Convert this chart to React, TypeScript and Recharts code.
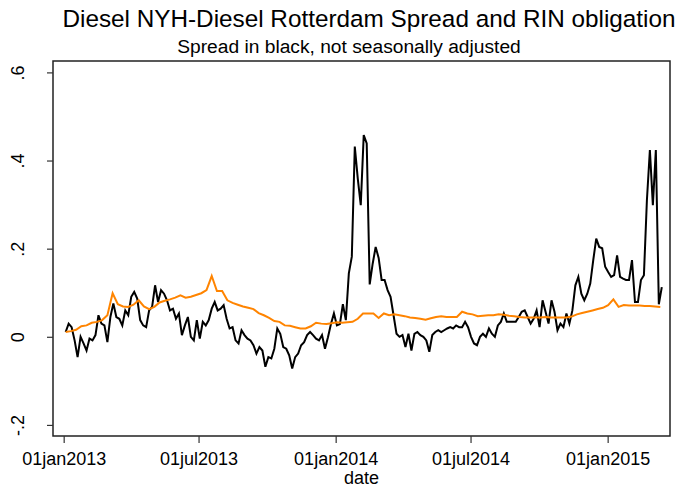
import React from "react";
import { Line, LineChart, ReferenceArea, XAxis, YAxis } from "recharts";

// days counted from 01jan2013
const SPREAD_START = 2;
const SPREAD_STEP = 4;
const spreadValues = [
  0.012, 0.031, 0.023, -0.007, -0.045, 0.001, -0.014, -0.03, -0.003, -0.007,
  0.005, 0.05, 0.031, 0.027, -0.011, 0.046, 0.077, 0.046, 0.042, 0.027,
  0.061, 0.05, 0.092, 0.103, 0.088, 0.039, 0.027, 0.023, 0.061, 0.069,
  0.118, 0.08, 0.107, 0.099, 0.084, 0.061, 0.065, 0.042, 0.054, 0.005,
  0.027, 0.046, 0.001, -0.007, 0.039, -0.003, 0.035, 0.027, 0.039, 0.065,
  0.08, 0.061, 0.065, 0.073, 0.042, 0.02, 0.023, -0.007, -0.014, 0.016,
  0.005, -0.003, -0.007, -0.018, -0.037, -0.022, -0.03, -0.067, -0.045, -0.048,
  -0.026, 0.02, 0.008, -0.022, -0.026, -0.041, -0.071, -0.045, -0.037, -0.018,
  -0.011, 0.005, 0.012, 0.005, -0.003, -0.007, 0.005, -0.026, 0.0, 0.03,
  0.054, 0.027, 0.03, 0.075, 0.039, 0.145, 0.183, 0.433, 0.36, 0.3,
  0.459, 0.44, 0.12, 0.167, 0.205, 0.18, 0.13, 0.13, 0.107, 0.092,
  0.05, 0.008, 0.001, 0.005, -0.022, 0.008, -0.03, 0.008, 0.012, 0.005,
  0.001, -0.007, -0.033, 0.005, 0.012, 0.016, 0.012, 0.016, 0.02, 0.023,
  0.02, 0.027, 0.023, 0.023, 0.035, 0.023, 0.001, -0.014, -0.018, 0.001,
  0.008, 0.001, 0.02, 0.008, 0.001, 0.027, 0.035, 0.054, 0.035, 0.035,
  0.035, 0.035, 0.046, 0.058, 0.061, 0.046, 0.031, 0.042, 0.061, 0.023,
  0.084, 0.058, 0.031, 0.084, 0.058, 0.016, 0.031, 0.023, 0.054, 0.031,
  0.061, 0.118, 0.137, 0.099, 0.084, 0.099, 0.122, 0.175, 0.224, 0.205,
  0.202, 0.16, 0.148, 0.137, 0.141, 0.186, 0.137, 0.133, 0.13, 0.13,
  0.175, 0.08, 0.08, 0.13, 0.141, 0.311, 0.425, 0.3, 0.425, 0.075,
  0.114,
];

const RIN_START = 2;
const RIN_STEP = 7;
const rinValues = [
  0.012, 0.014, 0.017, 0.025, 0.027, 0.033, 0.035, 0.039, 0.05, 0.1,
  0.075, 0.07, 0.069, 0.074, 0.084, 0.07, 0.064, 0.069, 0.079, 0.083,
  0.086, 0.09, 0.095, 0.09, 0.092, 0.096, 0.1, 0.107, 0.139, 0.105,
  0.105, 0.084, 0.078, 0.074, 0.07, 0.067, 0.064, 0.055, 0.05, 0.044,
  0.037, 0.035, 0.027, 0.026, 0.023, 0.02, 0.02, 0.025, 0.033, 0.031,
  0.03, 0.032, 0.034, 0.033, 0.034, 0.035, 0.042, 0.054, 0.054, 0.054,
  0.044, 0.054, 0.05, 0.052, 0.05, 0.048, 0.045, 0.044, 0.042, 0.04,
  0.043, 0.046, 0.048, 0.046, 0.046, 0.046, 0.058, 0.054, 0.052, 0.048,
  0.049, 0.05, 0.05, 0.052, 0.051, 0.049, 0.048, 0.046, 0.045, 0.045,
  0.045, 0.045, 0.046, 0.045, 0.045, 0.045, 0.045, 0.047, 0.052, 0.055,
  0.058, 0.061, 0.064, 0.067, 0.073, 0.086, 0.069, 0.073, 0.072, 0.072,
  0.072, 0.071, 0.071, 0.07, 0.069,
];

const dateTicks = [0, 181, 365, 546, 730];
const dateLabels = ["01jan2013", "01jul2013", "01jan2014", "01jul2014", "01jan2015"];
const yTicks = [-0.2, 0, 0.2, 0.4, 0.6];
const yLabels = ["-.2", "0", ".2", ".4", ".6"];

const X_DOMAIN: [number, number] = [-15, 813];
const Y_DOMAIN: [number, number] = [-0.224, 0.627];

const spreadData = spreadValues.map((v, i) => ({ day: SPREAD_START + i * SPREAD_STEP, v }));
const rinData = rinValues.map((v, i) => ({ day: RIN_START + i * RIN_STEP, v }));

const FONT = "'Liberation Sans', Arial, Helvetica, sans-serif";

const XTick = (props: any) => {
  const idx = dateTicks.indexOf(props.payload.value);
  return (
    <text x={props.x} y={props.y + 20} textAnchor="middle" fontSize={18} fontFamily={FONT} fill="#000">
      {dateLabels[idx]}
    </text>
  );
};

const YTick = (props: any) => {
  const idx = yTicks.findIndex((t) => Math.abs(t - props.payload.value) < 1e-9);
  const x = props.x - 21;
  return (
    <text
      x={x}
      y={props.y}
      transform={`rotate(-90, ${x}, ${props.y})`}
      textAnchor="middle"
      fontSize={18}
      fontFamily={FONT}
      fill="#000"
    >
      {yLabels[idx]}
    </text>
  );
};

export default function App() {
  return (
    <div style={{ position: "absolute", left: 0, top: 0, width: 694, height: 487, background: "#fff" }}>
      <LineChart width={694} height={487} margin={{ top: 61, right: 24, bottom: 0, left: 0 }}>
        <XAxis
          type="number"
          dataKey="day"
          domain={X_DOMAIN}
          allowDataOverflow
          ticks={dateTicks}
          tickSize={7}
          height={51}
          axisLine={false}
          tickLine={{ stroke: "#333", strokeWidth: 1.2 }}
          tick={XTick}
        />
        <YAxis
          type="number"
          domain={Y_DOMAIN}
          allowDataOverflow
          ticks={yTicks}
          tickSize={6}
          width={53}
          axisLine={false}
          tickLine={{ stroke: "#333", strokeWidth: 1.2 }}
          tick={YTick}
        />
        <ReferenceArea
          x1={X_DOMAIN[0]}
          x2={X_DOMAIN[1]}
          y1={Y_DOMAIN[0]}
          y2={Y_DOMAIN[1]}
          fill="none"
          fillOpacity={0}
          stroke="#222"
          strokeWidth={1.5}
          strokeOpacity={1}
        />
        <Line
          data={spreadData}
          dataKey="v"
          type="linear"
          stroke="#000"
          strokeWidth={2}
          dot={false}
          isAnimationActive={false}
        />
        <Line
          data={rinData}
          dataKey="v"
          type="linear"
          stroke="#ff8400"
          strokeWidth={2}
          dot={false}
          isAnimationActive={false}
        />
      </LineChart>
      <svg
        width={694}
        height={487}
        style={{ position: "absolute", left: 0, top: 0, pointerEvents: "none" }}
      >
        <text x={369} y={27} textAnchor="middle" fontSize={24.3} fontFamily={FONT} fill="#000">
          Diesel NYH-Diesel Rotterdam Spread and RIN obligation
        </text>
        <text x={349} y={53} textAnchor="middle" fontSize={19.2} fontFamily={FONT} fill="#000">
          Spread in black, not seasonally adjusted
        </text>
        <text x={361.5} y={484} textAnchor="middle" fontSize={18} fontFamily={FONT} fill="#000">
          date
        </text>
      </svg>
    </div>
  );
}
